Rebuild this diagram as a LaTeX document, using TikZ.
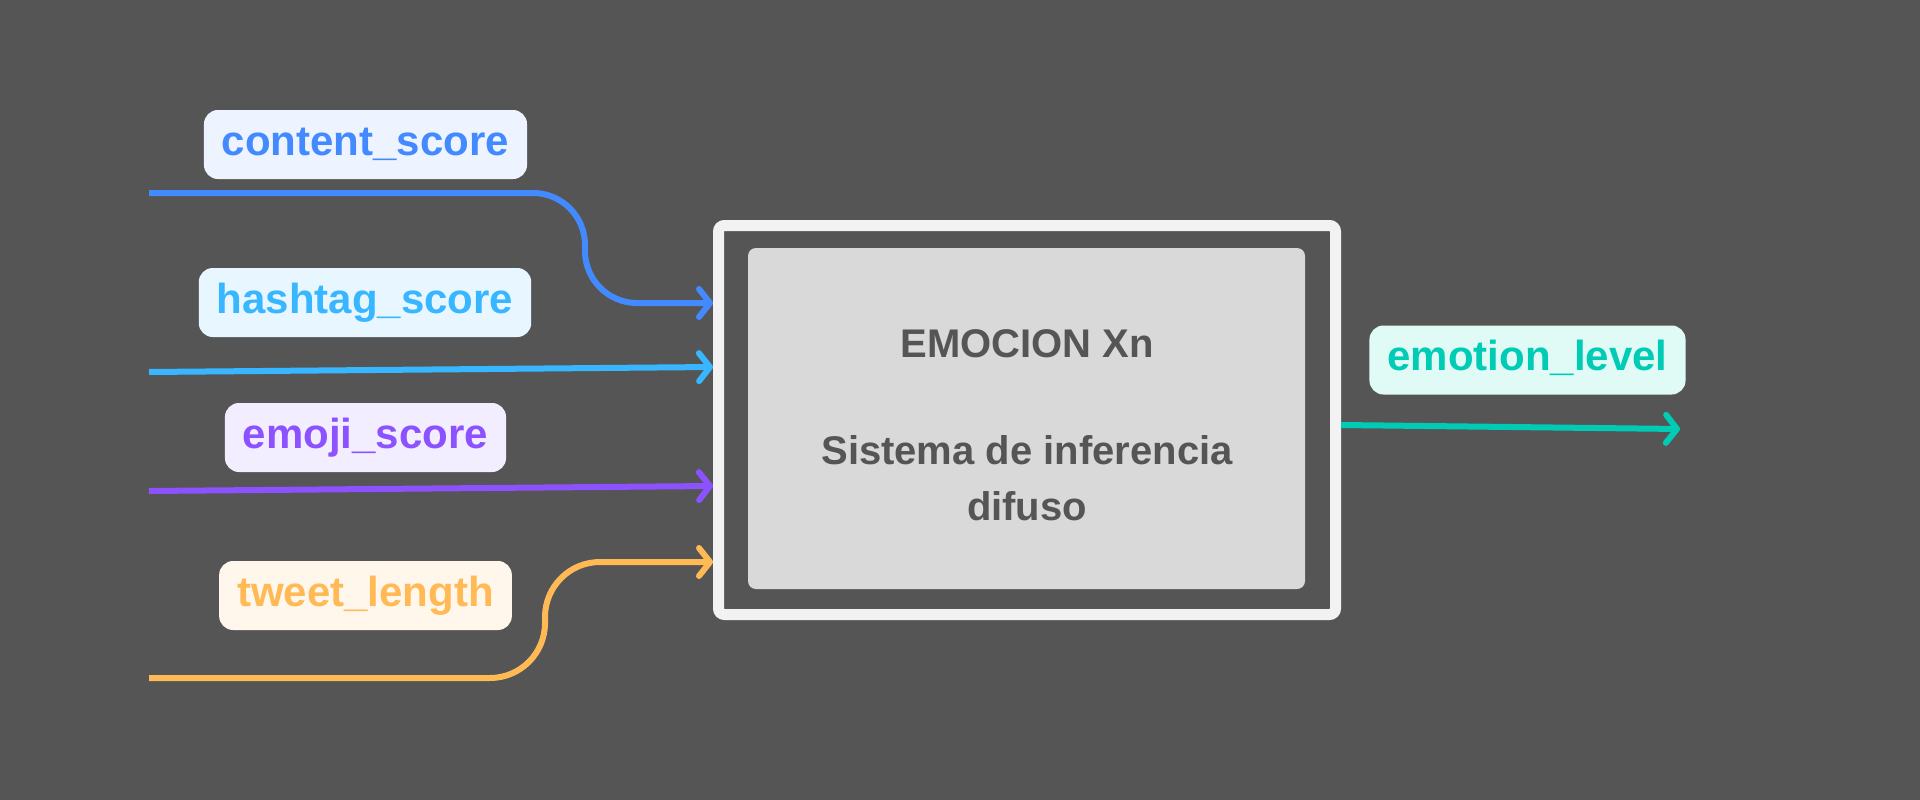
\documentclass[tikz,border=0pt]{standalone}
\usepackage{fontspec}
\setmainfont{Liberation Sans}
\usetikzlibrary{arrows.meta}

\definecolor{bg}{HTML}{555555}
\definecolor{frame}{HTML}{F2F2F2}
\definecolor{corefill}{HTML}{D9D9D9}
\definecolor{cblue}{HTML}{448AFF}
\definecolor{cblueL}{HTML}{EDF3FF}
\definecolor{hblue}{HTML}{38B6FF}
\definecolor{hblueL}{HTML}{E8F7FF}
\definecolor{epurple}{HTML}{8C52FF}
\definecolor{epurpleL}{HTML}{F2EEFF}
\definecolor{torange}{HTML}{FFBA55}
\definecolor{torangeL}{HTML}{FFF7EC}
\definecolor{lteal}{HTML}{00CCB5}
\definecolor{ltealL}{HTML}{E0FAF6}

\tikzset{
  lbl/.style 2 args={fill=#2, text=#1, rounded corners=14pt,
    inner xsep=18pt, inner ysep=15pt, text height=30pt, text depth=9pt,
    font=\bfseries\fontsize{42}{50}\selectfont},
  link/.style={draw=#1, line width=6pt,
    -{Straight Barb[length=11pt,width=28pt,round]}},
  boxtext/.style={anchor=base, align=center, text=bg,
    font=\bfseries\fontsize{40}{56}\selectfont}
}

\begin{document}
\begin{tikzpicture}[x=1pt,y=-1pt]

\fill[bg] (0,0) rectangle (1920,800);

% the inference block
\node[draw=frame, line width=11pt, rounded corners=6pt,
      minimum width=617pt, minimum height=389pt] (fis) at (1027,420) {};
\node[fill=corefill, rounded corners=8pt,
      minimum width=557pt, minimum height=341pt] (core) at (1026.5,418.5) {};
\node[boxtext] (title) at (1027,357) {EMOCION Xn};
\node[boxtext] (body) at (1027,520) {Sistema de inferencia\\difuso};

% labels
\node[lbl={cblue}{cblueL}] (content) at (365.5,144.5) {content\_score};
\node[lbl={hblue}{hblueL}] (hashtag) at (365,302.5) {hashtag\_score};
\node[lbl={epurple}{epurpleL}] (emoji) at (365.5,437.5) {emoji\_score};
\node[lbl={torange}{torangeL}] (tweet) at (365.5,595.5) {tweet\_length};
\node[lbl={lteal}{ltealL}] (level) at (1527.5,360) {emotion\_level};

% inputs
\coordinate (content-in) at (149,193);
\coordinate (content-bend) at (585,303);
\coordinate (hashtag-in) at (149,372);
\coordinate (emoji-in) at (149,491);
\coordinate (tweet-in) at (149,678);
\coordinate (tweet-bend) at (545,562);
\coordinate (level-out) at (1680,429);

\draw[link=cblue, rounded corners=52pt] (content-in) -| (content-bend) -- ([yshift=117pt]fis.west);
\draw[link=hblue] (hashtag-in) -- ([yshift=53pt]fis.west);
\draw[link=epurple] (emoji-in) -- ([yshift=-66pt]fis.west);
\draw[link=torange, rounded corners=55pt] (tweet-in) -| (tweet-bend) -- ([yshift=-142pt]fis.west);

% output
\draw[link=lteal] ([yshift=-5pt]fis.east) -- (level-out);

\end{tikzpicture}
\end{document}
